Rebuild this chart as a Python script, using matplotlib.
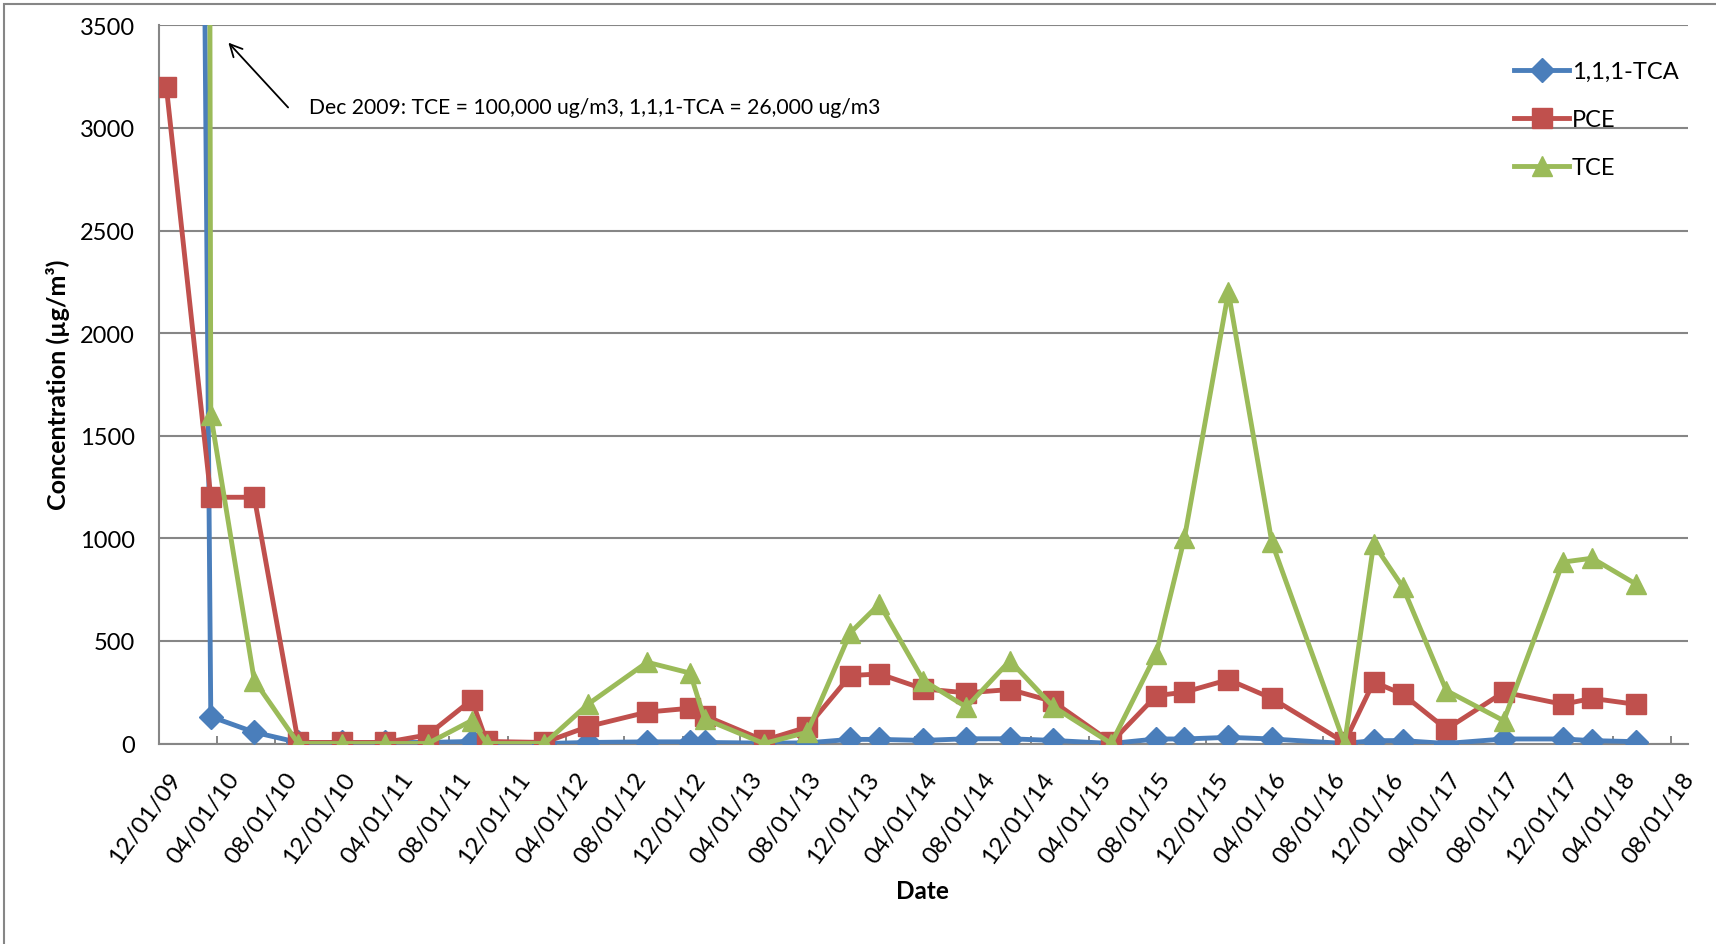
import matplotlib
matplotlib.use('Agg')
import matplotlib.pyplot as plt
import matplotlib.dates as mdates
import matplotlib.patches as patches
from matplotlib.transforms import ScaledTranslation
import numpy as np
import pandas as pd

#Sampling dates
sample_dates = ['2009-12-17', '2010-03-20', '2010-06-19', '2010-09-19', '2010-12-19',
                '2011-03-19', '2011-06-17', '2011-09-17', '2011-10-18', '2012-02-16',
                '2012-05-18', '2012-09-18', '2012-12-17', '2013-01-16', '2013-05-20',
                '2013-08-19', '2013-11-17', '2014-01-17', '2014-04-19', '2014-07-18',
                '2014-10-17', '2015-01-15', '2015-05-17', '2015-08-19', '2015-10-17',
                '2016-01-17', '2016-04-17', '2016-09-16', '2016-11-16', '2017-01-16',
                '2017-04-17', '2017-08-15', '2017-12-17', '2018-02-16', '2018-05-18']

#Concentrations in ug/m3
tca = [26000, 131, 55, 5, 5, 5, 5, 10, 4, 0,
       5, 8, 8, 5, 2, 3, 20, 20, 15, 23,
       23, 15, 0, 22, 22, 30, 22, 0, 14, 14,
       0, 22, 22, 14, 9]
pce = [3200, 1200, 1200, 5, 5, 5, 42, 213, 10, 5,
       83, 153, 172, 136, 15, 80, 331, 339, 266, 247,
       263, 205, 5, 233, 250, 311, 220, 5, 300, 240,
       70, 250, 191, 220, 191]
tce = [100000, 1600, 307, 0, 0, 0, 0, 112, 0, 0,
       193, 396, 343, 120, 0, 55, 540, 680, 307, 177,
       404, 180, 0, 437, 1000, 2200, 980, 0, 973, 762,
       258, 111, 884, 903, 778]

series_names = ['1,1,1-TCA', 'PCE', 'TCE']
annotation_text = 'Dec 2009: TCE = 100,000 ug/m3, 1,1,1-TCA = 26,000 ug/m3'

dates = pd.to_datetime(sample_dates)

W, H = 1716, 945
plt.rcParams['font.family'] = ['Lato', 'DejaVu Sans']
fig = plt.figure(figsize=(W / 100, H / 100), dpi=100)
ax = fig.add_axes([158.7 / W, 1 - 744.5 / H, (1687.7 - 158.7) / W, (744.5 - 26.3) / H])

grid_col = '#868686'

#Plot the 3 series
ax.plot(dates, tca, color='#4A7EBB', marker='D', markersize=12.5, lw=3.5,
        solid_joinstyle='round', label=series_names[0], zorder=3)
ax.plot(dates, pce, color='#C0504D', marker='s', markersize=14.5, lw=3.5,
        solid_joinstyle='round', label=series_names[1], zorder=4)
ax.plot(dates, tce, color='#9BBB59', marker='^', markersize=15, lw=3.5,
        solid_joinstyle='round', label=series_names[2], zorder=5)

ax.set_ylim(0, 3500)
ax.set_yticks(np.arange(0, 3501, 500))
ax.set_xlim(pd.Timestamp('2009-12-01'), pd.Timestamp('2018-09-04'))
ax.xaxis.set_major_locator(mdates.MonthLocator(bymonth=[4, 8, 12], bymonthday=1))
ax.xaxis.set_major_formatter(mdates.DateFormatter('%m/%d/%y'))

ax.yaxis.grid(True, color=grid_col, lw=1.5)
ax.set_axisbelow(True)
for s in ['top', 'right']:
    ax.spines[s].set_visible(False)
for s in ['left', 'bottom']:
    ax.spines[s].set_color(grid_col)
    ax.spines[s].set_linewidth(1.5)
    ax.spines[s].set_zorder(2)

ax.tick_params(axis='y', length=0, pad=17, labelsize=17)
ax.tick_params(axis='x', direction='in', length=5.5, width=1.4, color=grid_col,
               pad=0, labelsize=17.5)
offset = ScaledTranslation(0.18, -0.31, fig.dpi_scale_trans)
for lbl in ax.get_xticklabels():
    lbl.set_rotation(54)
    lbl.set_rotation_mode('anchor')
    lbl.set_ha('right')
    lbl.set_va('center')
    lbl.set_transform(lbl.get_transform() + offset)

#Axis titles
fig.text(922.6 / W, 1 - 892 / H, 'Date', fontsize=17.5, fontweight='bold',
         ha='center', va='center')
fig.text(58 / W, 1 - 385 / H, 'Concentration (µg/m³)', fontsize=18,
         fontweight='bold', rotation=90, ha='center', va='center')

#Annotation for the off-scale Dec 2009 values
ax.annotate('', xy=(226.5 / W, 1 - 41.6 / H), xytext=(290 / W, 1 - 110.5 / H),
            xycoords='figure fraction', textcoords='figure fraction',
            arrowprops=dict(arrowstyle='->', color='black', lw=1.3, mutation_scale=22))
fig.text(308.6 / W, 1 - 108 / H, annotation_text, fontsize=15.2, ha='left', va='center')

ax.legend(loc='upper left', bbox_to_anchor=(1514 / W, 1 - 62 / H),
          bbox_transform=fig.transFigure, frameon=False, fontsize=17,
          handlelength=2.33, handletextpad=0.12, labelspacing=1.15,
          numpoints=1, borderpad=0, borderaxespad=0)

#Chart border
fig.patches.append(patches.Rectangle((4 / W, -0.1), 1.2, 1.1 - 5 / H,
                                     transform=fig.transFigure, fill=False,
                                     edgecolor=grid_col, lw=1.5))

fig.savefig('out.png', dpi=100)
